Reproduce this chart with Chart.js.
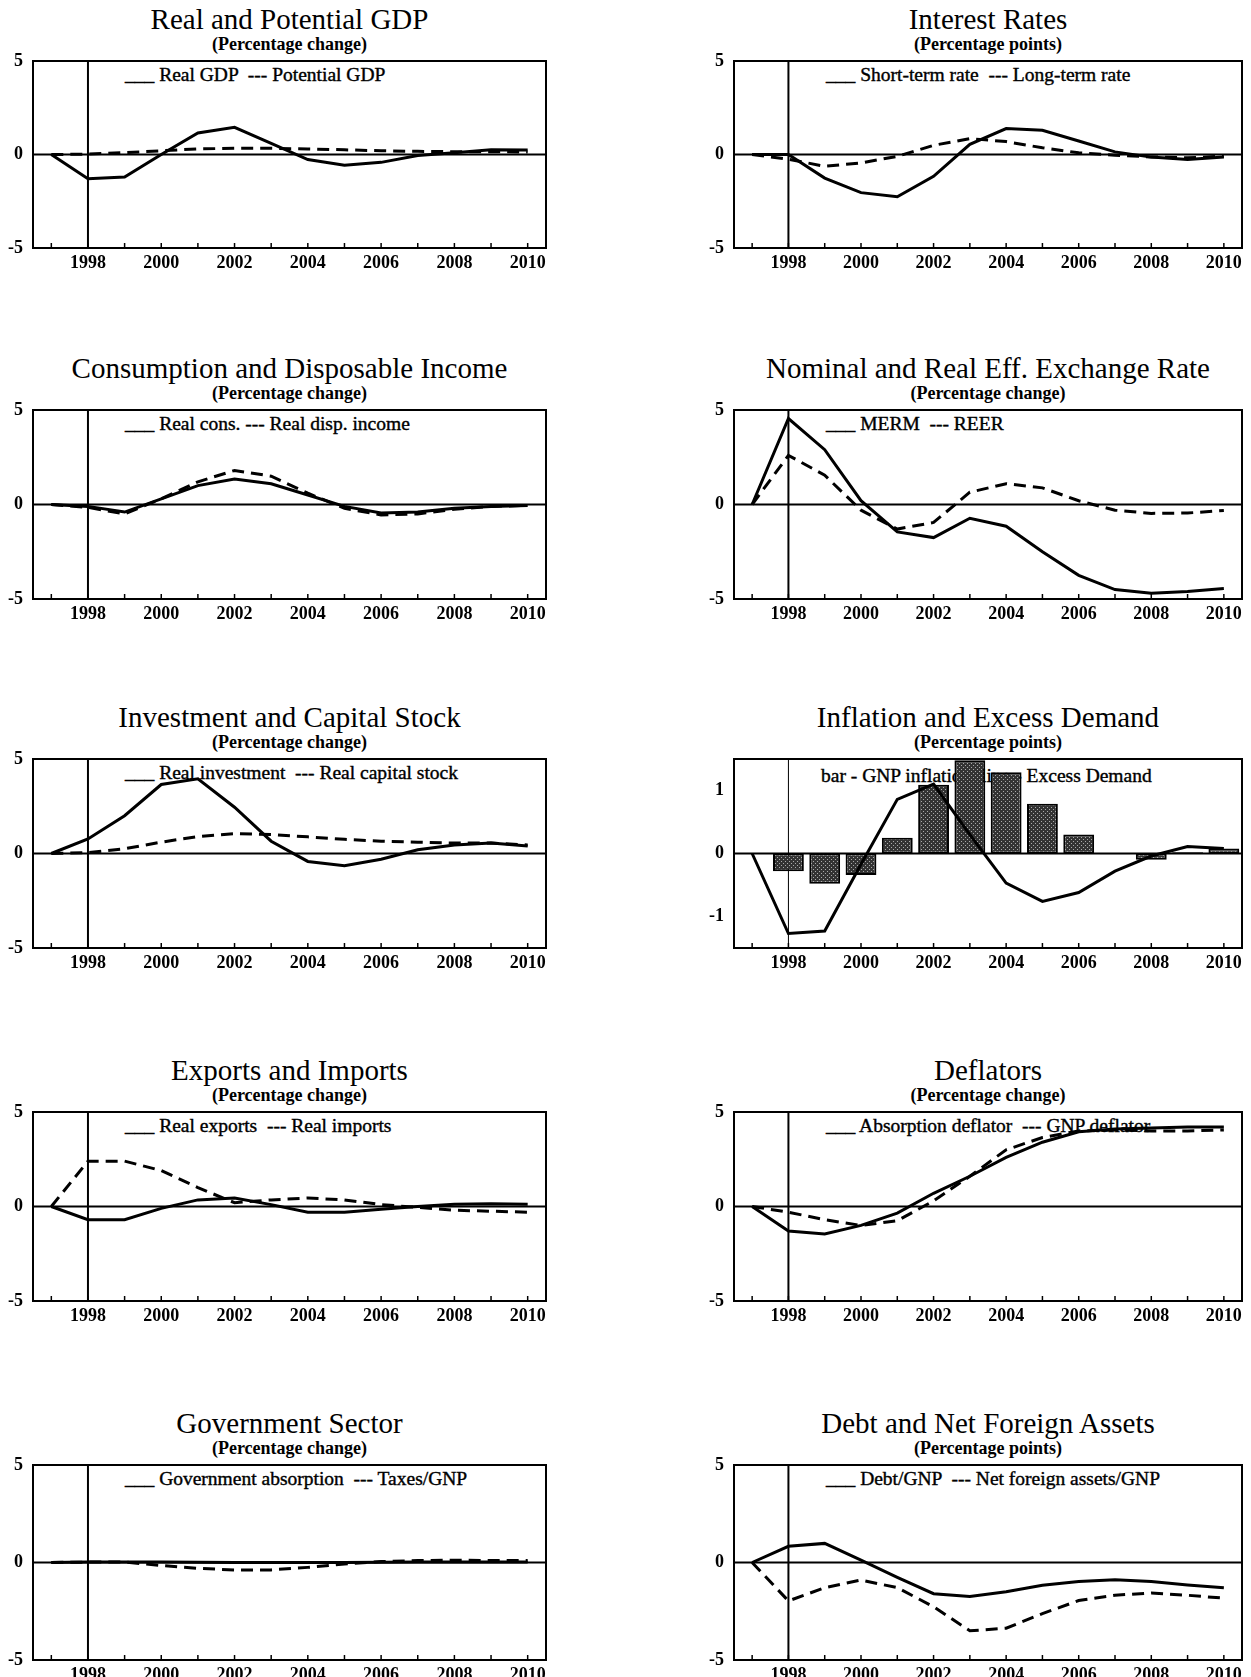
<!DOCTYPE html>
<html>
<head>
<meta charset="utf-8">
<title>Simulation results</title>
<script src="https://cdn.jsdelivr.net/npm/chart.js@4.4.1/dist/chart.umd.min.js"></script>
<style>
  html, body { margin: 0; padding: 0; background: #fff; }
  body {
    width: 1251px; height: 1677px; position: relative; overflow: hidden;
    font-family: "Liberation Serif", "Times New Roman", serif; color: #000;
  }
  .title { position: absolute; text-align: center; font-size: 29px; line-height: 32px; white-space: nowrap; }
  .sub { position: absolute; text-align: center; font-size: 18px; font-weight: bold; line-height: 20px; white-space: nowrap; }
  .legend {
    position: absolute; font-size: 19.5px; line-height: 22px; white-space: pre;
    -webkit-text-stroke: 0.4px #000;
  }
  canvas { position: absolute; }
</style>
</head>
<body>
<script>
  // ── Data ──────────────────────────────────────────────────────────────────
  const YEARS = ["1997", "1998", "1999", "2000", "2001", "2002", "2003",
                 "2004", "2005", "2006", "2007", "2008", "2009", "2010"];
  const MARK_YEAR = "1998";
  const Y_TICKS = [-5, 0, 5];
  const Y_TICKS_INFL = [-1, 0, 1];

  const REAL_GDP        = [0, -1.3, -1.2, 0.0, 1.15, 1.45, 0.6, -0.27, -0.57, -0.42, -0.05, 0.1, 0.25, 0.24];
  const POTENTIAL_GDP   = [0, 0.02, 0.1, 0.2, 0.3, 0.33, 0.33, 0.3, 0.25, 0.2, 0.17, 0.15, 0.15, 0.13];

  const SHORT_RATE      = [0, 0, -1.26, -2.04, -2.26, -1.17, 0.54, 1.39, 1.3, 0.72, 0.14, -0.14, -0.27, -0.13];
  const LONG_RATE       = [0, -0.25, -0.63, -0.45, -0.1, 0.49, 0.85, 0.69, 0.36, 0.09, -0.04, -0.13, -0.18, -0.09];

  const REAL_CONS       = [0, -0.1, -0.4, 0.3, 1.0, 1.35, 1.1, 0.5, -0.1, -0.45, -0.4, -0.2, -0.1, -0.05];
  const REAL_DISP_INC   = [0, -0.15, -0.5, 0.3, 1.2, 1.8, 1.5, 0.6, -0.2, -0.55, -0.5, -0.25, -0.1, -0.05];

  const MERM            = [0, 4.55, 2.9, 0.2, -1.45, -1.75, -0.73, -1.15, -2.5, -3.75, -4.5, -4.7, -4.6, -4.45];
  const REER            = [0, 2.6, 1.55, -0.3, -1.3, -0.95, 0.65, 1.1, 0.88, 0.2, -0.3, -0.47, -0.45, -0.32];

  const REAL_INVESTMENT = [0, 0.77, 2.0, 3.65, 3.95, 2.45, 0.65, -0.42, -0.65, -0.3, 0.2, 0.45, 0.55, 0.4];
  const REAL_CAPITAL    = [0, 0.05, 0.25, 0.6, 0.9, 1.05, 1.0, 0.88, 0.75, 0.65, 0.6, 0.55, 0.55, 0.45];

  const GNP_INFLATION   = [null, -0.28, -0.48, -0.34, 0.25, 1.09, 1.48, 1.29, 0.79, 0.3, -0.01, -0.1, 0.02, 0.08];
  const EXCESS_DEMAND   = [0, -1.27, -1.23, -0.17, 0.86, 1.1, 0.3, -0.47, -0.76, -0.62, -0.28, -0.04, 0.11, 0.08];

  const REAL_EXPORTS    = [0, -0.7, -0.7, -0.1, 0.35, 0.45, 0.1, -0.3, -0.3, -0.15, 0.0, 0.12, 0.15, 0.12];
  const REAL_IMPORTS    = [0, 2.4, 2.4, 1.9, 1.0, 0.2, 0.35, 0.45, 0.35, 0.1, -0.05, -0.2, -0.25, -0.3];

  const ABSORPTION_DEFL = [0, -1.3, -1.45, -1.0, -0.35, 0.7, 1.6, 2.6, 3.4, 3.95, 4.1, 4.15, 4.2, 4.2];
  const GNP_DEFL        = [0, -0.3, -0.7, -1.0, -0.75, 0.3, 1.6, 3.0, 3.65, 4.0, 4.05, 4.0, 4.0, 4.05];

  const GOV_ABSORPTION  = [0, 0.02, 0.03, 0.02, 0.01, 0, 0, 0, 0, 0.01, 0.02, 0.03, 0.03, 0.02];
  const TAXES_GNP       = [0, 0.02, 0.02, -0.15, -0.3, -0.38, -0.38, -0.25, -0.08, 0.05, 0.1, 0.12, 0.1, 0.1];

  const DEBT_GNP        = [0, 0.83, 0.98, 0.12, -0.76, -1.6, -1.74, -1.5, -1.17, -0.98, -0.89, -0.98, -1.15, -1.29];
  const NFA_GNP         = [0, -1.97, -1.29, -0.9, -1.29, -2.27, -3.5, -3.37, -2.62, -1.95, -1.68, -1.56, -1.68, -1.83];

  const PANELS = [
    { col: 0, row: 0, title: "Real and Potential GDP", sub: "(Percentage change)",
      legend: "___ Real GDP  --- Potential GDP", solid: REAL_GDP, dashed: POTENTIAL_GDP },
    { col: 1, row: 0, title: "Interest Rates", sub: "(Percentage points)",
      legend: "___ Short-term rate  --- Long-term rate", solid: SHORT_RATE, dashed: LONG_RATE },
    { col: 0, row: 1, title: "Consumption and Disposable Income", sub: "(Percentage change)",
      legend: "___ Real cons. --- Real disp. income", solid: REAL_CONS, dashed: REAL_DISP_INC },
    { col: 1, row: 1, title: "Nominal and Real Eff. Exchange Rate", sub: "(Percentage change)",
      legend: "___ MERM  --- REER", solid: MERM, dashed: REER },
    { col: 0, row: 2, title: "Investment and Capital Stock", sub: "(Percentage change)",
      legend: "___ Real investment  --- Real capital stock", solid: REAL_INVESTMENT, dashed: REAL_CAPITAL },
    { col: 1, row: 2, title: "Inflation and Excess Demand", sub: "(Percentage points)",
      legend: "bar - GNP inflation, line - Excess Demand", solid: EXCESS_DEMAND, bars: GNP_INFLATION,
      yMin: -1.5, yMax: 1.5, yTicks: Y_TICKS_INFL, markWidth: 1, legendDx: -5, legendDy: 3 },
    { col: 0, row: 3, title: "Exports and Imports", sub: "(Percentage change)",
      legend: "___ Real exports  --- Real imports", solid: REAL_EXPORTS, dashed: REAL_IMPORTS },
    { col: 1, row: 3, title: "Deflators", sub: "(Percentage change)",
      legend: "___ Absorption deflator  --- GNP deflator", solid: ABSORPTION_DEFL, dashed: GNP_DEFL },
    { col: 0, row: 4, title: "Government Sector", sub: "(Percentage change)",
      legend: "___ Government absorption  --- Taxes/GNP", solid: GOV_ABSORPTION, dashed: TAXES_GNP },
    { col: 1, row: 4, title: "Debt and Net Foreign Assets", sub: "(Percentage points)",
      legend: "___ Debt/GNP  --- Net foreign assets/GNP", solid: DEBT_GNP, dashed: NFA_GNP },
  ];

  // ── Layout ────────────────────────────────────────────────────────────────
  const COL_X = [[33, 546], [734, 1242]];
  const ROW_Y = [[61, 248], [410, 599], [759, 948], [1112, 1301], [1465, 1660]];
  const Y_AXIS_W = 33;
  const X_AXIS_H = 30;
  const PAD_TOP = 14;
  const PAD_RIGHT = 6;
  const FONT = "'Liberation Serif', 'Times New Roman', serif";
  const INK = "#000";

  // ── Frame: box, zero line, 1998 marker, inner year ticks ─────────────────
  const frame = {
    id: "frame",
    beforeDatasetsDraw(chart, args, opts) {
      const { ctx, chartArea: a, scales: { x, y } } = chart;
      ctx.save();
      ctx.strokeStyle = INK;
      ctx.lineWidth = 2;
      const y0 = y.getPixelForValue(0);
      ctx.beginPath();
      ctx.moveTo(a.left, y0);
      ctx.lineTo(a.right, y0);
      ctx.stroke();
      const xm = x.getPixelForValue(YEARS.indexOf(MARK_YEAR));
      ctx.lineWidth = opts.markWidth || 2;
      ctx.beginPath();
      ctx.moveTo(xm, a.top);
      ctx.lineTo(xm, a.bottom);
      ctx.stroke();
      ctx.restore();
    },
    afterDraw(chart) {
      const { ctx, chartArea: a, scales: { x } } = chart;
      ctx.save();
      ctx.strokeStyle = INK;
      ctx.lineWidth = 2;
      ctx.strokeRect(a.left, a.top, a.right - a.left, a.bottom - a.top);
      ctx.lineWidth = 1.5;
      YEARS.forEach((_, i) => {
        const px = x.getPixelForValue(i);
        ctx.beginPath();
        ctx.moveTo(px, a.bottom);
        ctx.lineTo(px, a.bottom - 5);
        ctx.stroke();
      });
      ctx.restore();
    },
  };

  function stipple() {
    const tile = document.createElement("canvas");
    tile.width = 4;
    tile.height = 4;
    const g = tile.getContext("2d");
    g.fillStyle = "#333";
    g.fillRect(0, 0, 4, 4);
    g.fillStyle = "#aaa";
    g.fillRect(0, 0, 1, 1);
    g.fillRect(2, 2, 1, 1);
    return g.createPattern(tile, "repeat");
  }

  function addText(cls, text, left, top, width) {
    const d = document.createElement("div");
    d.className = cls;
    d.textContent = text;
    d.style.left = left + "px";
    d.style.top = top + "px";
    if (width) d.style.width = width + "px";
    document.body.appendChild(d);
  }

  function buildPanel(p) {
    const [left, right] = COL_X[p.col];
    const [top, bottom] = ROW_Y[p.row];
    const w = right - left;

    addText("title", p.title, left, top - 58, w);
    addText("sub", p.sub, left, top - 27, w);
    addText("legend", p.legend, left + 92 + (p.legendDx || 0), top + 3 + (p.legendDy || 0));

    const canvas = document.createElement("canvas");
    const cw = w + Y_AXIS_W + PAD_RIGHT;
    const ch = bottom - top + PAD_TOP + X_AXIS_H;
    canvas.width = cw;
    canvas.height = ch;
    canvas.style.width = cw + "px";
    canvas.style.height = ch + "px";
    canvas.style.left = left - Y_AXIS_W + "px";
    canvas.style.top = top - PAD_TOP + "px";
    document.body.appendChild(canvas);

    const datasets = [
      { type: "line", data: p.solid, borderColor: INK, borderWidth: 3,
        pointRadius: 0, tension: 0, fill: false, order: 0 },
    ];
    if (p.dashed) {
      datasets.push({ type: "line", data: p.dashed, borderColor: INK, borderWidth: 3,
        borderDash: [12, 7], pointRadius: 0, tension: 0, fill: false, order: 0 });
    }
    if (p.bars) {
      datasets.push({ type: "bar", data: p.bars, backgroundColor: stipple(),
        borderColor: INK, borderWidth: 2, borderSkipped: false,
        barPercentage: 0.85, categoryPercentage: 1, order: 1 });
    }

    const tickFont = { family: FONT, size: 18, weight: "bold" };
    const yTicks = p.yTicks || Y_TICKS;

    new Chart(canvas, {
      type: "line",
      data: { labels: YEARS, datasets },
      options: {
        responsive: false,
        animation: false,
        devicePixelRatio: 1,
        layout: { padding: { top: PAD_TOP, right: PAD_RIGHT, left: 0, bottom: 0 } },
        plugins: {
          legend: { display: false },
          tooltip: { enabled: false },
          frame: { markWidth: p.markWidth || 2 },
        },
        scales: {
          x: {
            type: "category",
            offset: true,
            grid: { display: false, drawTicks: false },
            border: { display: false },
            ticks: {
              autoSkip: false,
              maxRotation: 0,
              padding: 5,
              color: INK,
              font: tickFont,
              callback: (v, i) => (Number(YEARS[i]) % 2 === 0 ? YEARS[i] : ""),
            },
            afterFit: (s) => {
              s.height = X_AXIS_H;
              s.paddingLeft = 0;
              s.paddingRight = 0;
            },
          },
          y: {
            type: "linear",
            min: p.yMin ?? -5,
            max: p.yMax ?? 5,
            grid: { display: false, drawTicks: false },
            border: { display: false },
            ticks: { padding: 10, color: INK, font: tickFont, callback: (v) => String(v) },
            afterBuildTicks: (s) => { s.ticks = yTicks.map((v) => ({ value: v })); },
            afterFit: (s) => {
              s.width = Y_AXIS_W;
              s.paddingTop = 0;
              s.paddingBottom = 0;
            },
          },
        },
      },
      plugins: [frame],
    });
  }

  PANELS.forEach(buildPanel);
</script>
</body>
</html>
